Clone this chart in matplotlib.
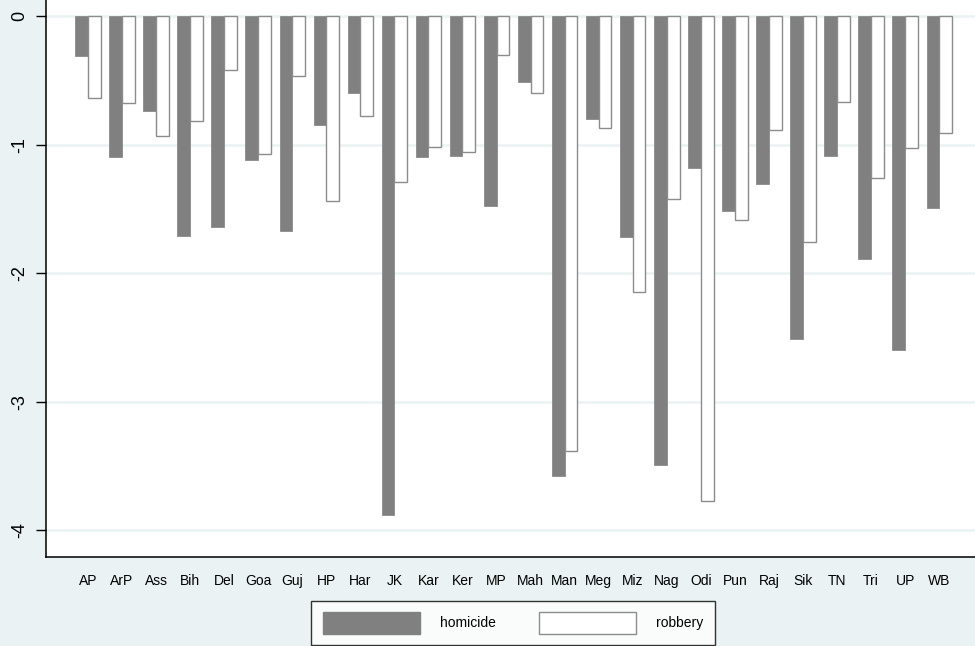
import numpy as np
import matplotlib.pyplot as plt
from matplotlib.patches import Patch

states = ['AP', 'ArP', 'Ass', 'Bih', 'Del', 'Goa', 'Guj', 'HP', 'Har', 'JK',
          'Kar', 'Ker', 'MP', 'Mah', 'Man', 'Meg', 'Miz', 'Nag', 'Odi', 'Pun',
          'Raj', 'Sik', 'TN', 'Tri', 'UP', 'WB']
homicide = [-0.31, -1.10, -0.74, -1.71, -1.64, -1.12, -1.67, -0.85, -0.60, -3.88,
            -1.10, -1.09, -1.48, -0.51, -3.58, -0.80, -1.72, -3.49, -1.18, -1.52,
            -1.31, -2.51, -1.09, -1.89, -2.60, -1.49]
robbery = [-0.64, -0.68, -0.93, -0.82, -0.42, -1.07, -0.47, -1.44, -0.78, -1.29,
           -1.02, -1.06, -0.30, -0.60, -3.38, -0.87, -2.15, -1.42, -3.77, -1.59,
           -0.89, -1.76, -0.67, -1.26, -1.03, -0.91]
yticks = [0, -1, -2, -3, -4]

bg = '#eaf2f3'
plt.rcParams['font.family'] = ['Liberation Sans', 'DejaVu Sans']

fig = plt.figure(figsize=(9.75, 6.46), dpi=100, facecolor=bg)
# plot region: left edge x=46, bottom y=557, runs off the top and right of the image
ax = fig.add_axes([46 / 975, (646 - 557) / 646, 929 / 975, 557 / 646])
ax.set_facecolor('white')

x = np.arange(len(states))
w = 0.373
ax.bar(x - w / 2, homicide, w, color='#808080', edgecolor='#8a8a8a', linewidth=0.6, zorder=3)
ax.bar(x + w / 2, robbery, w, color='white', edgecolor='#8c8c8c', linewidth=1.0, zorder=3)

ppu = 128.6  # pixels per unit on y
ax.set_xlim(-1.23, 26.05)
ax.set_ylim(-(557 - 16) / ppu, 16 / ppu)
ax.set_yticks(yticks)
ax.set_yticklabels([str(t) for t in yticks], rotation=90, va='center', fontsize=13)
ax.tick_params(axis='y', length=7.5, width=1, pad=5)
ax.set_xticks(x)
ax.set_xticklabels(states, fontsize=10)
ax.tick_params(axis='x', length=0, pad=12)
ax.grid(axis='y', color=bg, linewidth=1.8, zorder=0)

for s in ['top', 'right']:
    ax.spines[s].set_visible(False)
for s in ['left', 'bottom']:
    ax.spines[s].set_linewidth(1.1)
    ax.spines[s].set_color('black')

handles = [Patch(facecolor='#808080', edgecolor='#808080', label='homicide'),
           Patch(facecolor='white', edgecolor='#8c8c8c', label='robbery')]
leg = fig.legend(handles=handles, loc='center', bbox_to_anchor=(513 / 975, 1 - 623 / 646),
                 ncol=2, fontsize=10, frameon=True, fancybox=False,
                 handlelength=7.0, handleheight=2.0, handletextpad=1.45,
                 columnspacing=3.1, borderpad=0.8, borderaxespad=0)
leg.get_frame().set_edgecolor('black')
leg.get_frame().set_linewidth(1.0)

fig.savefig('out.png', dpi=100, facecolor=bg)
